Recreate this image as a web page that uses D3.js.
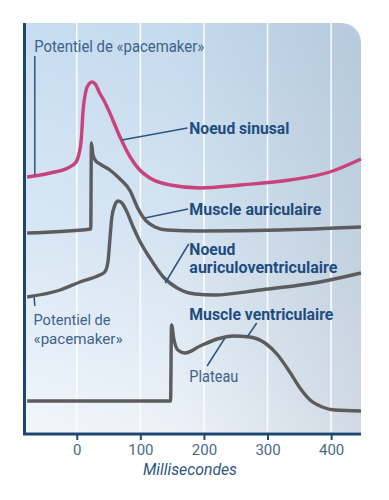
<!DOCTYPE html>
<html>
<head>
<meta charset="utf-8">
<script src="https://cdn.jsdelivr.net/npm/d3@7"></script>
<style>
  body { margin: 0; background: #fff; }
  svg { display: block; }
  .lbl { font-family: "Liberation Sans Narrow", "Roboto", sans-serif; }
</style>
</head>
<body>
<div id="chart"></div>
<script>
// time in ms, height in arbitrary units above the baseline (curves are stacked)
const sinusMs  = [-78, -42, -14, -1, 3, 7, 10, 14, 19, 24, 30, 36, 44, 52, 68, 84, 99, 115, 147, 194, 257, 335, 398, 447];
const sinusVal = [257, 261, 266, 272, 279, 294, 324, 342, 350, 352, 349, 341, 332, 321, 297, 277, 264, 256, 249, 246, 249, 254, 262, 275];

const atriumMs  = [-78, 22, 23, 25.5, 30, 36.5, 52, 68, 84, 95, 104, 123, 142, 194, 320, 447];
const atriumVal = [201, 205, 291, 279, 273, 270, 264, 255, 243, 227, 217, 207, 204, 203, 204, 207];

const avMs  = [-78, -26, 5, 36, 44, 49, 52, 55, 60, 65, 71, 79, 88, 99, 115, 136, 158, 186, 217, 288, 382, 447];
const avVal = [137, 144, 152, 159, 162, 172, 194, 216, 229, 233, 231, 222, 208, 193, 176, 157, 146, 140, 139, 144, 152, 161];

const ventMs  = [-78, 147.5, 149, 153, 159, 170, 194, 221, 246, 272, 296, 316, 335, 351, 367, 386, 406, 447];
const ventVal = [33, 33, 109, 94, 84, 81, 88, 95, 98, 97, 91, 79, 62, 46, 34, 27, 24, 23];

const tickMs = [0, 100, 200, 300, 400];
const axisTitle = "Millisecondes";

const width = 389, height = 500;
const pLeft = 24, pRight = 361, pTop = 23, pBottom = 432;

const x = d3.scaleLinear().domain([-83, 447]).range([pLeft, pRight]);
const y = d3.scaleLinear().domain([0, 411]).range([434, 23]);

const svg = d3.select("#chart").append("svg")
    .attr("width", width)
    .attr("height", height);

const defs = svg.append("defs");
const gv = defs.append("linearGradient").attr("id", "bgV")
    .attr("x1", 0).attr("y1", 0).attr("x2", 0).attr("y2", 1);
gv.append("stop").attr("offset", "0%").attr("stop-color", "#c7ddf1");
gv.append("stop").attr("offset", "55%").attr("stop-color", "#dae8f5");
gv.append("stop").attr("offset", "100%").attr("stop-color", "#f1f6fb");
const gh = defs.append("linearGradient").attr("id", "bgH")
    .attr("x1", 0).attr("y1", 0).attr("x2", 1).attr("y2", 0);
gh.append("stop").attr("offset", "0%").attr("stop-color", "#8fa0b0").attr("stop-opacity", 0);
gh.append("stop").attr("offset", "45%").attr("stop-color", "#8fa0b0").attr("stop-opacity", 0.05);
gh.append("stop").attr("offset", "100%").attr("stop-color", "#8fa0b0").attr("stop-opacity", 0.32);

// panel with rounded top-right corner
const rad = 20;
const panel = `M${pLeft},${pTop} H${pRight - rad} A${rad},${rad} 0 0 1 ${pRight},${pTop + rad} V${pBottom} H${pLeft} Z`;
svg.append("path").attr("d", panel).attr("fill", "url(#bgV)");
svg.append("path").attr("d", panel).attr("fill", "url(#bgH)");

// white vertical grid
svg.append("g").selectAll("line")
    .data(tickMs)
    .enter().append("line")
    .attr("x1", d => x(d)).attr("x2", d => x(d))
    .attr("y1", d => x(d) > pRight - rad ? pTop + 5 : pTop)
    .attr("y2", pBottom)
    .attr("stroke", "#ffffff")
    .attr("stroke-width", 1.6)
    .attr("opacity", 0.9);

// x axis ticks and labels
const xAxis = d3.axisBottom(x).tickValues(tickMs).tickSize(6).tickPadding(4);
const ax = svg.append("g").attr("transform", `translate(0,${434})`).call(xAxis);
ax.select(".domain").remove();
ax.selectAll(".tick line").attr("stroke", "#1f4b78").attr("stroke-width", 2);
ax.selectAll(".tick text")
    .attr("class", "lbl")
    .attr("fill", "#4a698b")
    .attr("font-size", 15);

// axes frame
svg.append("path")
    .attr("d", `M${pLeft + 0.5},${pTop} V434 H${pRight}`)
    .attr("fill", "none")
    .attr("stroke", "#1c4773")
    .attr("stroke-width", 3);

svg.append("text")
    .attr("class", "lbl")
    .attr("x", 190).attr("y", 475)
    .attr("text-anchor", "middle")
    .attr("font-size", 16)
    .attr("font-style", "italic")
    .attr("fill", "#2f5682")
    .attr("textLength", 94)
    .attr("lengthAdjust", "spacingAndGlyphs")
    .text(axisTitle);

// curves
const line = d3.line()
    .x(d => x(d[0]))
    .y(d => y(d[1]))
    .curve(d3.curveMonotoneX);

const traces = [
  { ms: sinusMs, val: sinusVal, color: "#c8437c" },
  { ms: atriumMs, val: atriumVal, color: "#5c5c5e" },
  { ms: avMs, val: avVal, color: "#5c5c5e" },
  { ms: ventMs, val: ventVal, color: "#5c5c5e" }
];

svg.append("g").selectAll("path")
    .data(traces)
    .enter().append("path")
    .attr("d", t => line(t.ms.map((m, i) => [m, t.val[i]])))
    .attr("fill", "none")
    .attr("stroke", t => t.color)
    .attr("stroke-width", 3.4)
    .attr("stroke-linejoin", "round")
    .attr("stroke-linecap", "butt");

// leader lines [ms, val] -> [ms, val]
const leaders = [
  [[71, 294], [174, 306]],
  [[107, 216], [175, 225]],
  [[139, 151], [176, 190]],
  [[268, 97], [283, 111]],
  [[233, 96], [205, 68]],
  [[-66, 378], [-66, 259]],
  [[-67, 137], [-66, 128]]
];
svg.append("g").selectAll("line")
    .data(leaders)
    .enter().append("line")
    .attr("x1", d => x(d[0][0])).attr("y1", d => y(d[0][1]))
    .attr("x2", d => x(d[1][0])).attr("y2", d => y(d[1][1]))
    .attr("stroke", "#2a5482")
    .attr("stroke-width", 1.5);

// labels: text, ms, val (baseline), bold, width, size
const labels = [
  ["Potentiel de «pacemaker»", -67, 382, false, 170, 17],
  ["Noeud sinusal", 177, 300, true, 100, 17],
  ["Muscle auriculaire", 177, 219, true, 132, 17],
  ["Noeud", 177, 179, true, 46, 16],
  ["auriculoventriculaire", 177, 161, true, 148, 16],
  ["Potentiel de", -68, 109, false, 77, 15],
  ["«pacemaker»", -68, 90, false, 89, 15],
  ["Muscle ventriculaire", 177, 114, true, 144, 17],
  ["Plateau", 177, 52, false, 49, 17]
];
svg.append("g").selectAll("text")
    .data(labels)
    .enter().append("text")
    .attr("class", "lbl")
    .attr("x", d => x(d[1]))
    .attr("y", d => y(d[2]))
    .attr("font-size", d => d[5])
    .attr("font-weight", d => d[3] ? "bold" : "normal")
    .attr("fill", d => d[3] ? "#1f4c7e" : "#3e628b")
    .attr("textLength", d => d[4])
    .attr("lengthAdjust", "spacingAndGlyphs")
    .text(d => d[0]);
</script>
</body>
</html>
